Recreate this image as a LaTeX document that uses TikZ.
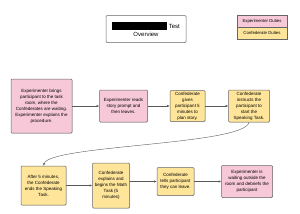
\documentclass[tikz,border=0pt]{standalone}
\usepackage{fontspec}
\setmainfont{Liberation Sans}
\usepackage{tikz}
\usetikzlibrary{positioning, arrows.meta, shadows}
\definecolor{pinkfill}{HTML}{F7C8D8}
\definecolor{yellowfill}{HTML}{FFE599}
\definecolor{edge}{HTML}{666666}
\definecolor{wire}{HTML}{595959}

\begin{document}
\begin{tikzpicture}[
  x=1pt, y=-1pt,
  node distance=24pt,
  box/.style={rectangle, rounded corners=1pt, draw=edge, line width=0.5pt,
              align=center, inner sep=1pt, font=\fontsize{4.5}{6}\selectfont,
              drop shadow={shadow xshift=0.6pt, shadow yshift=-0.6pt, opacity=0.25}},
  expbox/.style={box, fill=pinkfill},
  confbox/.style={box, fill=yellowfill},
  legend/.style={rectangle, draw=edge, line width=0.4pt, minimum width=50pt,
                 minimum height=12pt, inner sep=0pt, font=\fontsize{4.3}{5}\selectfont},
  arr/.style={-{Latex[length=2.6pt, width=2.2pt]}, wire, line width=0.4pt},
]
\useasboundingbox (0,0) rectangle (300,214);

%% Title and legend
\node[rectangle, rounded corners=1pt, draw=edge, line width=0.5pt, minimum width=80pt,
      minimum height=27pt, align=center, font=\fontsize{6}{8}\selectfont]
      (title) at (146,29) {\rule[-1.5pt]{55pt}{8pt} Test\\Overview};
\node[legend, fill=pinkfill] (legexp) at (262,21) {Experimenter Duties};
\node[legend, fill=yellowfill, below=0pt of legexp] (legconf) {Confederate Duties};

%% Row 1
\node[expbox, minimum width=61pt, minimum height=54pt] (bring) at (41.5,106)
  {Experimenter brings\\participant to the task\\room, where the\\Confederates are waiting.\\Experimenter explains the\\procedure.};
\node[expbox, minimum width=48pt, minimum height=32pt, right=27pt of bring] (reads)
  {Experimenter reads\\story prompt and\\then leaves.};
\node[confbox, minimum width=35pt, minimum height=31pt, right=22pt of reads] (plan)
  {Confederate\\gives\\participant 5\\minutes to\\plan story.};
\node[confbox, minimum width=41pt, minimum height=32pt, right=23pt of plan] (speak)
  {Confederate\\instructs the\\participant to\\start the\\Speaking Task.};

%% Row 2
\node[confbox, minimum width=45pt, minimum height=39pt] (ends) at (43.5,185.5)
  {After 5 minutes,\\the Confederate\\ends the Speaking\\Task.};
\node[confbox, minimum width=37pt, minimum height=45pt, right=26pt of ends] (math)
  {Confederate\\explains and\\begins the Math\\Task (5\\minutes)};
\node[confbox, minimum width=37pt, minimum height=28pt, right=27pt of math, yshift=4pt] (leave)
  {Confederate\\tells participant\\they can leave.};
\node[expbox, minimum width=51pt, minimum height=32pt, right=27pt of leave] (debrief)
  {Experimenter is\\waiting outside the\\room and debriefs the\\participant};

%% Arrows
\draw[arr] (bring) -- (reads);
\draw[arr] (reads) -- (plan);
\draw[arr] (plan) -- (speak);
\draw[arr] (speak.south) .. controls (245,145) and (50,145) .. (ends.north);
\draw[arr] (ends) -- (math);
\draw[arr] (math.east |- leave) -- (leave);
\draw[arr] (leave) -- (debrief);

\end{tikzpicture}
\end{document}
